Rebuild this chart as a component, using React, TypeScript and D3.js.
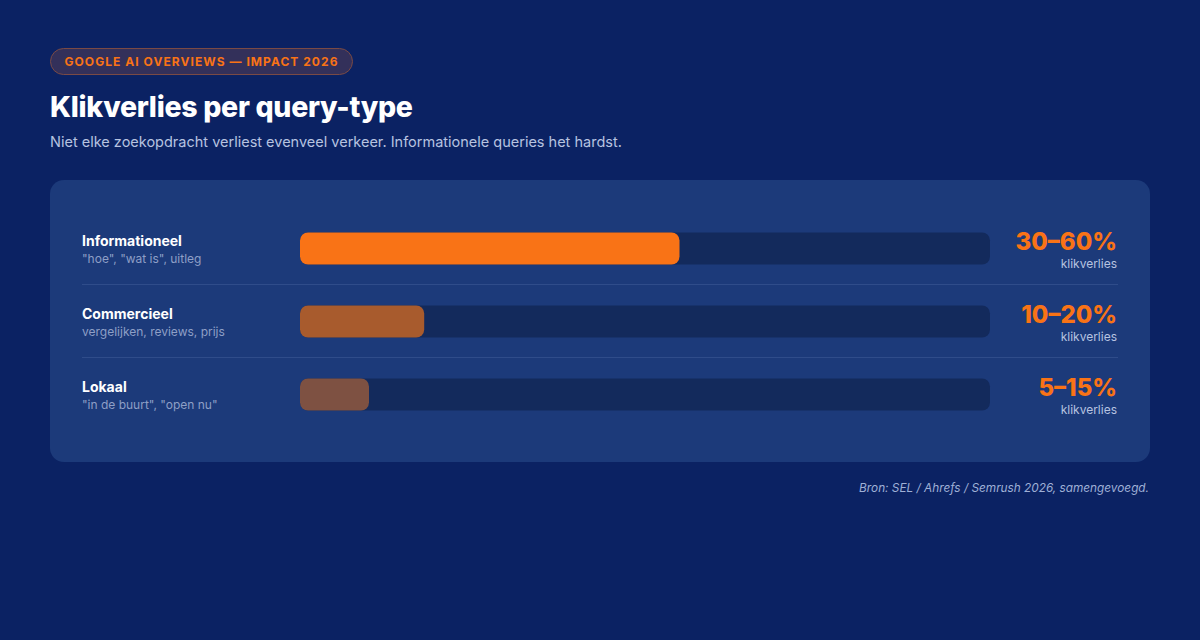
import React from "react";
import * as d3 from "d3";

const categories = ["Informationeel", "Commercieel", "Lokaal"];
const descriptions = ['"hoe", "wat is", uitleg', "vergelijken, reviews, prijs", '"in de buurt", "open nu"'];
const barValues = [55, 18, 10];
const rangeLabels = ["30–60%", "10–20%", "5–15%"];
const fillColors = ["#f97316", "#a85b2d", "#7e5142"];

const W = 1200;
const H = 640;
const FONT = "Inter, 'Noto Sans', sans-serif";

export default function App() {
  const cardX = 50, cardY = 180, cardW = 1100, cardH = 282;
  const rowTop = 212, rowH = 73;
  const trackX = 300, trackW = 690, trackH = 32;
  const x = d3.scaleLinear().domain([0, 100]).range([0, trackW]);
  const y = d3.scaleBand().domain(categories).range([rowTop, rowTop + rowH * categories.length]).padding(0);

  return (
    <svg width={W} height={H} style={{ position: "absolute", left: 0, top: 0, display: "block" }} fontFamily={FONT}>
      <rect x={0} y={0} width={W} height={H} fill="#0b2263" />
      {/* badge */}
      <rect x={50.5} y={48.5} width={302} height={26} rx={13} fill="#33305a" stroke="#7a4a45" strokeWidth={1} />
      <text x={201.5} y={66} textAnchor="middle" fill="#f97316" fontSize={12} fontWeight={700} letterSpacing={1.05}>
        GOOGLE AI OVERVIEWS — IMPACT 2026
      </text>
      <text x={50} y={117} fill="#ffffff" fontSize={28.5} fontWeight={800} letterSpacing={-0.3}>
        Klikverlies per query-type
      </text>
      <text x={50} y={147} fill="#b7c3e0" fontSize={14.5}>
        Niet elke zoekopdracht verliest evenveel verkeer. Informationele queries het hardst.
      </text>
      {/* card */}
      <rect x={cardX} y={cardY} width={cardW} height={cardH} rx={14} fill="#1c3a7a" />
      {categories.map((c, i) => {
        const top = y(c)!;
        const cy = top + rowH / 2;
        return (
          <g key={c}>
            {i > 0 && <line x1={82} x2={1118} y1={top - 0.5} y2={top - 0.5} stroke="#2f4c8a" strokeWidth={1} />}
            <text x={82} y={cy - 2.5} fill="#ffffff" fontSize={14} fontWeight={700}>{c}</text>
            <text x={82} y={cy + 14.5} fill="#8e9fc6" fontSize={12}>{descriptions[i]}</text>
            <rect x={trackX} y={cy - trackH / 2} width={trackW} height={trackH} rx={8} fill="#132a5c" />
            <rect x={trackX} y={cy - trackH / 2} width={x(barValues[i])} height={trackH} rx={8} fill={fillColors[i]} />
            <text x={1117} y={cy + 1.5} textAnchor="end" fill="#f97316" fontSize={24} fontWeight={800}>{rangeLabels[i]}</text>
            <text x={1117} y={cy + 19} textAnchor="end" fill="#b7c3e0" fontSize={12}>klikverlies</text>
          </g>
        );
      })}
      <text x={1149} y={492} textAnchor="end" fill="#9fb0d6" fontSize={11.8} fontStyle="italic">
        Bron: SEL / Ahrefs / Semrush 2026, samengevoegd.
      </text>
    </svg>
  );
}
